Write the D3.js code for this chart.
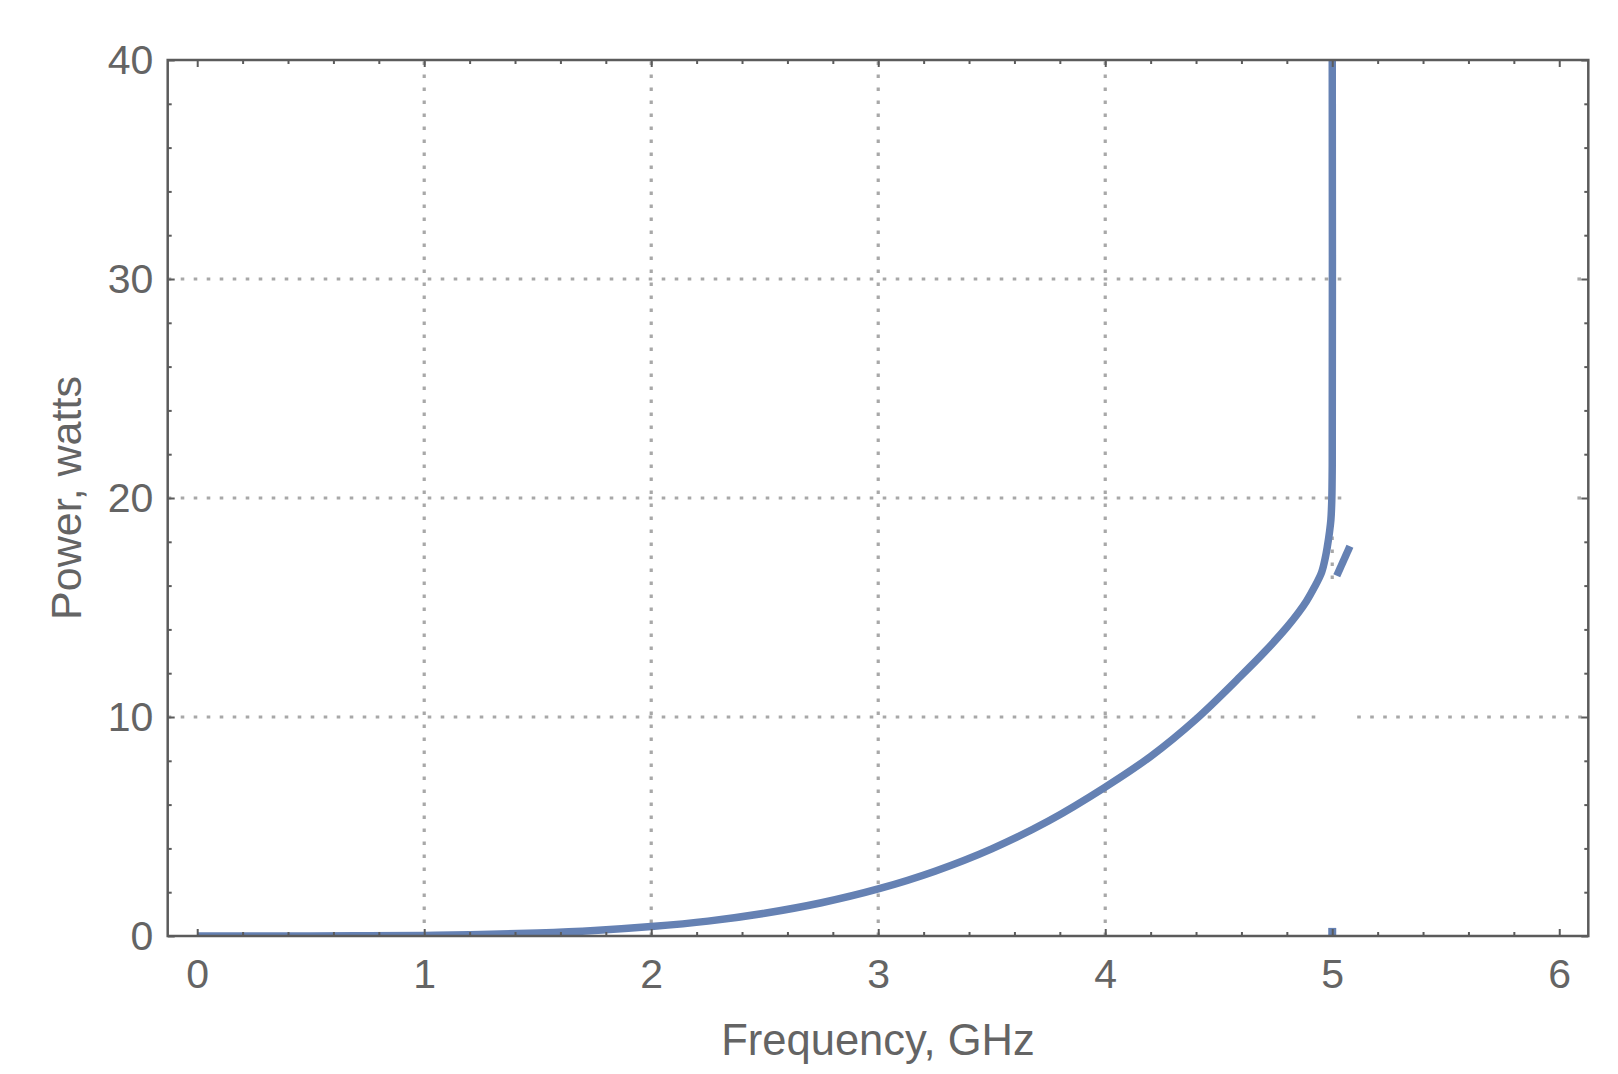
<!DOCTYPE html>
<html>
<head>
<meta charset="utf-8">
<script src="https://cdn.jsdelivr.net/npm/d3@7"></script>
<style>
  html, body { margin: 0; padding: 0; background: #fff; }
  svg { display: block; }
  text { font-family: "Liberation Sans", Arial, Helvetica, sans-serif; fill: #646464; }
</style>
</head>
<body>
<svg id="chart" width="1618" height="1074"></svg>
<script>
// ---------- data ----------
const freq  = [0, 0.25, 0.5, 0.75, 1.0, 1.25, 1.5, 1.75, 2.0, 2.25, 2.5, 2.75, 3.0, 3.25, 3.5, 3.75,
               4.0, 4.2, 4.4, 4.6, 4.7, 4.8, 4.85, 4.887, 4.92, 4.953, 4.97, 4.978, 4.988, 4.994, 4.998, 5.0, 5.0];
const power = [0, 0.0001, 0.002, 0.008, 0.027, 0.065, 0.135, 0.25, 0.43, 0.68, 1.04, 1.52, 2.15, 2.96, 3.98, 5.25,
               6.8, 8.2, 9.9, 11.9, 12.95, 14.1, 14.75, 15.3, 15.9, 16.6, 17.3, 17.76, 18.45, 19.0, 19.9, 21.5, 41];
// small detached pieces of the curve past the pole
const stubFreq  = [5.02, 5.078];
const stubPower = [16.45, 17.8];
const baseFreq  = [5.0, 5.0];
const basePower = [0, 0.37];

const xDomain = [-0.13, 6.128];
const yDomain = [0, 40];
const xMajor = [0, 1, 2, 3, 4, 5, 6];
const yMajor = [0, 10, 20, 30, 40];
const xMinor = d3.range(0, 6.01, 0.2).map(v => +v.toFixed(1)).filter(v => !xMajor.includes(v));
const yMinor = d3.range(0, 40.1, 2).filter(v => !yMajor.includes(v));

// grid lines (value, visible spans in the other axis's data units)
const xGrid = [
  {v: 1, spans: [[0, 40]]}, {v: 2, spans: [[0, 40]]}, {v: 3, spans: [[0, 40]]},
  {v: 4, spans: [[0, 40]]}, {v: 5, spans: [[16.3, 40]]}
];
const yGrid = [
  {v: 10, spans: [[-0.13, 4.96], [5.11, 6.128]]},
  {v: 20, spans: [[-0.13, 5.07], [6.08, 6.128]]},
  {v: 30, spans: [[-0.13, 5.07], [6.08, 6.128]]}
];

const xTitle = "Frequency, GHz";
const yTitle = "Power, watts";

// ---------- layout ----------
const L = 167.7, R = 1588.3, T = 60, B = 936;
const svg = d3.select("#chart");
const x = d3.scaleLinear().domain(xDomain).range([L, R]);
const y = d3.scaleLinear().domain(yDomain).range([B, T]);

const gridColor = "#a8a8a8";
const frameColor = "#5b5b5b";
const lineColor = "#6581b3";

// grid
const grid = svg.append("g").attr("stroke", gridColor).attr("stroke-width", 3.2)
  .attr("stroke-dasharray", "3.6,9.4").attr("fill", "none");
xGrid.forEach(g => g.spans.forEach(s => {
  grid.append("line").attr("x1", x(g.v)).attr("x2", x(g.v))
    .attr("y1", y(s[0])).attr("y2", y(s[1]));
}));
yGrid.forEach(g => g.spans.forEach(s => {
  grid.append("line").attr("y1", y(g.v)).attr("y2", y(g.v))
    .attr("x1", x(s[0])).attr("x2", x(s[1]));
}));

// clip
svg.append("clipPath").attr("id", "plotClip").append("rect")
  .attr("x", L).attr("y", T).attr("width", R - L).attr("height", B - T);

const smooth = d3.line().x(d => x(d[0])).y(d => y(d[1])).curve(d3.curveCatmullRom.alpha(0.5));
const straight = d3.line().x(d => x(d[0])).y(d => y(d[1]));
const plot = svg.append("g").attr("clip-path", "url(#plotClip)");
plot.append("path").datum(freq.map((f, i) => [f, power[i]]))
  .attr("d", smooth).attr("fill", "none").attr("stroke", lineColor)
  .attr("stroke-width", 7.5).attr("stroke-linejoin", "round");
plot.append("path").datum(stubFreq.map((f, i) => [f, stubPower[i]]))
  .attr("d", straight).attr("fill", "none").attr("stroke", lineColor)
  .attr("stroke-width", 7.5).attr("stroke-linecap", "butt");
plot.append("path").datum(baseFreq.map((f, i) => [f, basePower[i]]))
  .attr("d", straight).attr("fill", "none").attr("stroke", lineColor)
  .attr("stroke-width", 8).attr("stroke-linecap", "butt");

// axes (ticks inward on all four sides)
function styleAxis(g) {
  g.select(".domain").remove();
  g.selectAll(".tick line").attr("stroke", frameColor).attr("stroke-width", 2);
  g.selectAll(".tick text").attr("fill", "#646464").style("font-size", "41px")
    .style("font-family", '"Liberation Sans", Arial, sans-serif');
}
const fmt = d3.format("d");
svg.append("g").attr("transform", `translate(0,${B})`)
  .call(d3.axisBottom(x).tickValues(xMajor).tickSize(-7).tickPadding(23).tickFormat(fmt)).call(styleAxis);
svg.append("g").attr("transform", `translate(0,${B})`)
  .call(d3.axisBottom(x).tickValues(xMinor).tickSize(-4).tickFormat("")).call(styleAxis);
svg.append("g").attr("transform", `translate(0,${T})`)
  .call(d3.axisTop(x).tickValues(xMajor).tickSize(-7).tickFormat("")).call(styleAxis);
svg.append("g").attr("transform", `translate(0,${T})`)
  .call(d3.axisTop(x).tickValues(xMinor).tickSize(-4).tickFormat("")).call(styleAxis);
svg.append("g").attr("transform", `translate(${L},0)`)
  .call(d3.axisLeft(y).tickValues(yMajor).tickSize(-7).tickPadding(14.4).tickFormat(fmt)).call(styleAxis);
svg.append("g").attr("transform", `translate(${L},0)`)
  .call(d3.axisLeft(y).tickValues(yMinor).tickSize(-4).tickFormat("")).call(styleAxis);
svg.append("g").attr("transform", `translate(${R},0)`)
  .call(d3.axisRight(y).tickValues(yMajor).tickSize(-7).tickFormat("")).call(styleAxis);
svg.append("g").attr("transform", `translate(${R},0)`)
  .call(d3.axisRight(y).tickValues(yMinor).tickSize(-4).tickFormat("")).call(styleAxis);

// frame
svg.append("rect").attr("x", L).attr("y", T).attr("width", R - L).attr("height", B - T)
  .attr("fill", "none").attr("stroke", frameColor).attr("stroke-width", 2.5);

// titles
svg.append("text").attr("x", (L + R) / 2).attr("y", 1055).attr("text-anchor", "middle")
  .style("font-size", "43.5px").text(xTitle);
svg.append("text").attr("transform", `translate(81,${(T + B) / 2}) rotate(-90)`)
  .attr("text-anchor", "middle").style("font-size", "43px").text(yTitle);
</script>
</body>
</html>
